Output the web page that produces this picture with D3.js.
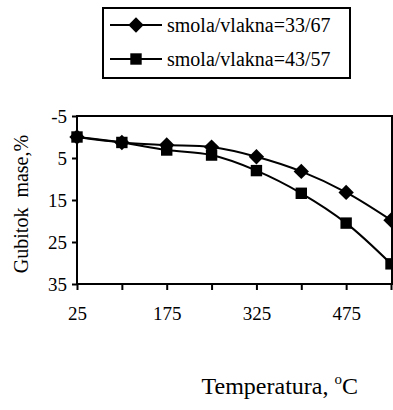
<!DOCTYPE html>
<html>
<head>
<meta charset="utf-8">
<script src="https://cdn.jsdelivr.net/npm/d3@7"></script>
<style>
  html, body { margin: 0; padding: 0; background: #fff; }
  svg { display: block; }
  text { font-family: "Liberation Serif", serif; fill: #000; }
</style>
</head>
<body>
<svg id="chart" width="393" height="410"></svg>
<script>
// Temperature steps (°C)
const temperatures = [25, 100, 175, 250, 325, 400, 475, 550];
// Mass loss (%) for each resin/fibre ratio
const loss3367 = [0, 1.3, 1.9, 2.4, 4.7, 8.2, 13.2, 19.8];
const loss4357 = [0, 1.3, 3.1, 4.3, 8.0, 13.4, 20.5, 30.2];
const seriesNames = ["smola/vlakna=33/67", "smola/vlakna=43/57"];
const xTickLabels = [25, 175, 325, 475];
const yTickLabels = [-5, 5, 15, 25, 35];

const FONT = "Liberation Serif";
const svg = d3.select("#chart");
const plot = { left: 77, right: 391, top: 116, bottom: 284 };

const x = d3.scaleLinear().domain([25, 550]).range([plot.left, plot.right]);
const y = d3.scaleLinear().domain([-5, 35]).range([plot.top, plot.bottom]);

// Plot frame
svg.append("rect")
  .attr("x", plot.left).attr("y", plot.top)
  .attr("width", plot.right - plot.left + 1).attr("height", plot.bottom - plot.top)
  .attr("fill", "none").attr("stroke", "#000").attr("stroke-width", 2);

// X axis: a tick at every temperature, labels every other step
const xAxis = d3.axisBottom(x)
  .tickValues(temperatures)
  .tickSize(6)
  .tickFormat(d => xTickLabels.includes(d) ? String(d) : "");
const gx = svg.append("g").attr("transform", `translate(0,${plot.bottom})`).call(xAxis)
  .attr("font-family", FONT).attr("font-size", 19);
gx.select(".domain").remove();
gx.selectAll(".tick line").attr("stroke", "#000").attr("stroke-width", 2);
gx.selectAll(".tick text").attr("fill", "#000").attr("y", 23).attr("dy", "0.71em");

// Y axis (downward loss axis), plain hyphen for the negative label
const yAxis = d3.axisLeft(y).tickValues(yTickLabels).tickSize(5).tickFormat(d => String(d));
const gy = svg.append("g").attr("transform", `translate(${plot.left},0)`).call(yAxis)
  .attr("font-family", FONT).attr("font-size", 19);
gy.select(".domain").remove();
gy.selectAll(".tick line").attr("stroke", "#000").attr("stroke-width", 2);
gy.selectAll(".tick text").attr("fill", "#000").attr("x", -10);

// Smoothed lines
const line = d3.line()
  .x((d, i) => x(temperatures[i]))
  .y(d => y(d))
  .curve(d3.curveCatmullRom.alpha(0.5));

const diamond = d3.symbol().type(d3.symbolDiamond2).size(150);
const square = d3.symbol().type(d3.symbolSquare).size(130);

[[loss3367, diamond], [loss4357, square]].forEach(([vals, sym]) => {
  svg.append("path")
    .attr("d", line(vals))
    .attr("fill", "none").attr("stroke", "#000").attr("stroke-width", 2);
  svg.selectAll(null).data(vals).enter().append("path")
    .attr("transform", (d, i) => `translate(${x(temperatures[i])},${y(d)})`)
    .attr("d", sym).attr("fill", "#000");
});

// Legend
const legend = svg.append("g");
legend.append("rect")
  .attr("x", 103).attr("y", 8).attr("width", 247).attr("height", 70)
  .attr("fill", "#fff").attr("stroke", "#000").attr("stroke-width", 2);
[diamond, square].forEach((sym, i) => {
  const cy = 25 + i * 34;
  legend.append("line")
    .attr("x1", 110).attr("x2", 162).attr("y1", cy).attr("y2", cy)
    .attr("stroke", "#000").attr("stroke-width", 2);
  legend.append("path").attr("transform", `translate(136,${cy})`)
    .attr("d", sym).attr("fill", "#000");
  legend.append("text")
    .attr("x", 167).attr("y", cy + 7)
    .attr("font-family", FONT).attr("font-size", 20)
    .text(seriesNames[i]);
});

// Axis titles
svg.append("text")
  .attr("transform", "translate(28,204) rotate(-90)")
  .attr("text-anchor", "middle")
  .attr("font-family", FONT).attr("font-size", 20)
  .style("white-space", "pre")
  .text("Gubitok  mase,%");

const xt = svg.append("text")
  .attr("x", 358).attr("y", 394)
  .attr("text-anchor", "end")
  .attr("font-family", FONT).attr("font-size", 24);
xt.append("tspan").text("Temperatura, ");
xt.append("tspan").attr("font-size", 15).attr("dy", -10).text("o");
xt.append("tspan").attr("dy", 10).text("C");
</script>
</body>
</html>
